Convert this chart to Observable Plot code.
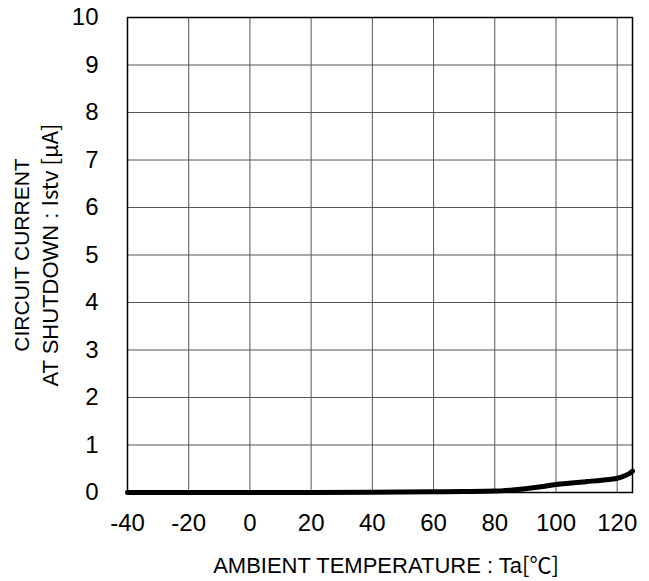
<!DOCTYPE html>
<html>
<head>
<meta charset="utf-8">
<script src="https://cdn.jsdelivr.net/npm/d3@7"></script>
<script src="https://cdn.jsdelivr.net/npm/@observablehq/plot@0.6"></script>
<style>
  html, body { margin: 0; padding: 0; background: #fff; }
  #chart { width: 649px; height: 581px; }
</style>
</head>
<body>
<div id="chart"></div>
<script>
// Ambient temperature (°C)
const temps = [-40, -20, 0, 20, 40, 50, 60, 70, 80, 85, 90, 95, 100, 105, 110, 115, 120, 122, 124, 125];
// Circuit current at shutdown Istv (µA)
const current = [0, 0, 0, 0, 0.005, 0.01, 0.015, 0.02, 0.03, 0.05, 0.08, 0.12, 0.17, 0.2, 0.23, 0.26, 0.3, 0.34, 0.4, 0.45];
const xTicks = [-40, -20, 0, 20, 40, 60, 80, 100, 120];
const yTicks = [0, 1, 2, 3, 4, 5, 6, 7, 8, 9, 10];
const xGrid = [-20, 0, 20, 40, 60, 80, 100, 120];
const yGrid = [1, 2, 3, 4, 5, 6, 7, 8, 9];
const xTitle = "AMBIENT TEMPERATURE : Ta[℃]";
const yTitle1 = "CIRCUIT CURRENT";
const yTitle2 = "AT SHUTDOWN : Istv [μA]";

const data = temps.map((t, i) => ({t, v: current[i]}));
const font = "'Liberation Sans', Arial, 'Noto Sans CJK JP', sans-serif";
const jpFont = "'Noto Sans CJK JP', 'Liberation Sans', sans-serif";

const chart = Plot.plot({
  width: 649,
  height: 581,
  marginLeft: 127,
  marginRight: 17,
  marginTop: 17,
  marginBottom: 89,
  style: {fontFamily: font, fontSize: "24px", color: "#000", background: "#fff", overflow: "visible"},
  x: {domain: [-40, 125], label: null},
  y: {domain: [0, 10], label: null},
  marks: [
    Plot.ruleX(xGrid, {stroke: "#555", strokeWidth: 1}),
    Plot.ruleY(yGrid, {stroke: "#555", strokeWidth: 1}),
    Plot.frame({stroke: "#000", strokeWidth: 1.5}),
    Plot.axisX({ticks: xTicks, tickSize: 0, tickPadding: 21, fontSize: 24, label: null, tickFormat: d => String(d)}),
    Plot.axisY({ticks: yTicks, tickSize: 0, tickPadding: 29, fontSize: 24, label: null}),
    Plot.line(data, {x: "t", y: "v", stroke: "#000", strokeWidth: 5, curve: "monotone-x"}),
    Plot.text([xTitle], {frameAnchor: "bottom", dy: 73, fontSize: 22, fill: "#000", lineAnchor: "middle", textAnchor: "middle", dx: 6}),
    Plot.text([yTitle1], {frameAnchor: "left", dx: -105, rotate: -90, fontSize: 21, fill: "#000", textAnchor: "middle", lineAnchor: "middle"}),
    Plot.text([yTitle2], {frameAnchor: "left", dx: -77, rotate: -90, fontSize: 22, fill: "#000", textAnchor: "middle", lineAnchor: "middle"})
  ]
});

// Render the bracketed units / symbol parts in a Japanese gothic face, as in the original
function splitFont(full, plainPart) {
  d3.select(chart).selectAll("text").each(function() {
    if (this.textContent !== full) return;
    const rest = full.slice(plainPart.length);
    const sel = d3.select(this);
    sel.text(null);
    sel.append("tspan").text(plainPart);
    sel.append("tspan").attr("font-family", jpFont).text(rest);
  });
}
splitFont(xTitle, "AMBIENT TEMPERATURE : Ta");
splitFont(yTitle2, "AT SHUTDOWN : ");

document.getElementById("chart").appendChild(chart);
</script>
</body>
</html>
